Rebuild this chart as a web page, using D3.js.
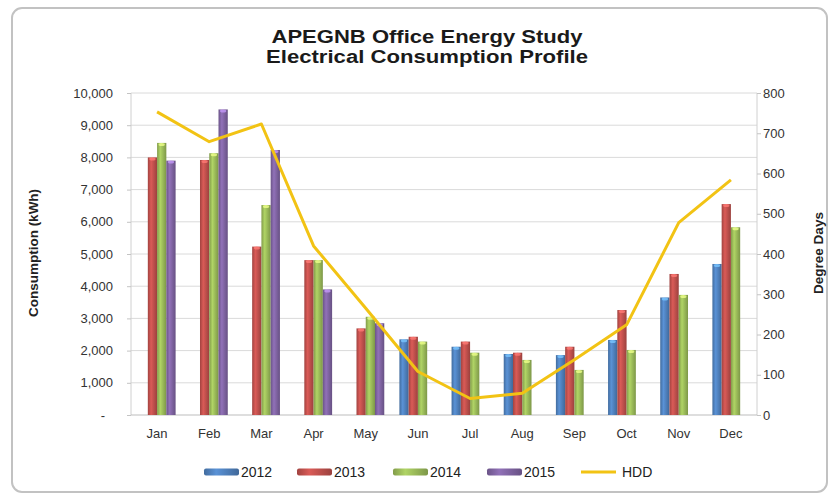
<!DOCTYPE html>
<html>
<head>
<meta charset="utf-8">
<script src="https://cdn.jsdelivr.net/npm/d3@7"></script>
<style>
	body { margin: 0; background: #fff; }
	svg { font-family: 'Liberation Sans', Arial, sans-serif; }
	.axis path { display: none; }
	.axis .tick line { stroke: #c4c4c4; }
	.axis text { fill: #333; font-size: 13px; }
</style>
</head>
<body>
<svg id="chart"></svg>
<script>
// Chart data
const months = ['Jan', 'Feb', 'Mar', 'Apr', 'May', 'Jun', 'Jul', 'Aug', 'Sep', 'Oct', 'Nov', 'Dec'];
const years = ['2012', '2013', '2014', '2015'];
const kwh2012 = [null, null, null, null, null, 2350, 2120, 1895, 1860, 2330, 3650, 4690];
const kwh2013 = [8000, 7920, 5230, 4810, 2690, 2430, 2280, 1935, 2120, 3260, 4380, 6550];
const kwh2014 = [8450, 8130, 6520, 4810, 3050, 2280, 1935, 1710, 1400, 2020, 3730, 5830];
const kwh2015 = [7900, 9490, 8230, 3900, 2850, null, null, null, null, null, null, null];
const hdd = [753, 679, 723, 420, 265, 108, 41, 54, 137, 224, 478, 584];
const kwhTicks = [0, 1000, 2000, 3000, 4000, 5000, 6000, 7000, 8000, 9000, 10000];
const hddTicks = [0, 100, 200, 300, 400, 500, 600, 700, 800];

class ComboChart {
	constructor(_config) {
		this.config = {
			parentElement: _config.parentElement,
			containerWidth: 834,
			containerHeight: 495,
			margin: { top: 93, right: 77, bottom: 80, left: 131 },
		};
		this.initVis();
	}

	initVis() {
		let vis = this;

		vis.width = vis.config.containerWidth - vis.config.margin.left - vis.config.margin.right;
		vis.height = vis.config.containerHeight - vis.config.margin.top - vis.config.margin.bottom;

		// bar series table built from the year arrays
		vis.series = [kwh2012, kwh2013, kwh2014, kwh2015];
		vis.rows = months.map((m, i) => ({
			month: m,
			values: years.map((y, j) => ({ year: y, value: vis.series[j][i] })).filter((d) => d.value !== null),
			hdd: hdd[i],
		}));

		vis.colorScale = d3.scaleOrdinal()
			.domain(years)
			.range(['#4f81bd', '#c0504d', '#9bbb59', '#8064a2']);
		vis.lineColor = '#f2c314';

		vis.xScale = d3.scaleBand()
			.domain(months)
			.range([0, vis.width])
			.paddingInner(0.29)
			.paddingOuter(0.145);
		vis.xSub = d3.scaleBand()
			.domain(years)
			.range([0, vis.xScale.bandwidth()]);
		vis.yScale = d3.scaleLinear().domain([0, 10000]).range([vis.height, 0]);
		vis.yScaleR = d3.scaleLinear().domain([0, 800]).range([vis.height, 0]);

		vis.svg = d3.select(vis.config.parentElement)
			.attr('width', vis.config.containerWidth)
			.attr('height', vis.config.containerHeight);

		// gradients to mimic the bevelled excel columns
		const defs = vis.svg.append('defs');
		years.forEach((y) => {
			const c = vis.colorScale(y);
			const g = defs.append('linearGradient')
				.attr('id', 'grad' + y)
				.attr('x1', 0).attr('x2', 1).attr('y1', 0).attr('y2', 0);
			g.append('stop').attr('offset', '0%').attr('stop-color', d3.rgb(c).darker(0.5));
			g.append('stop').attr('offset', '35%').attr('stop-color', d3.rgb(c).brighter(0.35));
			g.append('stop').attr('offset', '100%').attr('stop-color', d3.rgb(c).darker(0.6));
		});

		// outer frame
		vis.svg.append('rect')
			.attr('x', 12)
			.attr('y', 8)
			.attr('width', 815)
			.attr('height', 484)
			.attr('rx', 10)
			.attr('fill', '#fff')
			.attr('stroke', '#c2c2c2')
			.attr('stroke-width', 2);

		vis.chart = vis.svg.append('g')
			.attr('transform', `translate(${vis.config.margin.left},${vis.config.margin.top})`);

		// gridlines
		vis.chart.append('g')
			.selectAll('line')
			.data(kwhTicks.slice(1))
			.join('line')
			.attr('x1', 0)
			.attr('x2', vis.width)
			.attr('y1', (d) => vis.yScale(d))
			.attr('y2', (d) => vis.yScale(d))
			.attr('stroke', '#dadada');

		// plot area sides and base
		vis.chart.append('line')
			.attr('x1', 0).attr('x2', 0).attr('y1', 0).attr('y2', vis.height)
			.attr('stroke', '#d0d0d0');
		vis.chart.append('line')
			.attr('x1', vis.width).attr('x2', vis.width).attr('y1', 0).attr('y2', vis.height)
			.attr('stroke', '#d0d0d0');
		vis.chart.append('line')
			.attr('x1', 0).attr('x2', vis.width).attr('y1', vis.height).attr('y2', vis.height)
			.attr('stroke', '#bdbdbd');

		vis.xAxis = d3.axisBottom(vis.xScale).tickSize(0).tickPadding(14);
		vis.yAxis = d3.axisLeft(vis.yScale)
			.tickValues(kwhTicks)
			.tickSize(4)
			.tickPadding(14)
			.tickFormat((d) => (d === 0 ? '-' : d3.format(',')(d)));
		vis.yAxisR = d3.axisRight(vis.yScaleR)
			.tickValues(hddTicks)
			.tickSize(4)
			.tickPadding(2)
			.tickFormat(d3.format('d'));

		vis.xAxisG = vis.chart.append('g')
			.attr('class', 'axis x-axis')
			.attr('transform', `translate(0,${vis.height})`);
		vis.yAxisG = vis.chart.append('g').attr('class', 'axis y-axis left');
		vis.yAxisGR = vis.chart.append('g')
			.attr('class', 'axis y-axis right')
			.attr('transform', `translate(${vis.width},0)`);

		// axis titles
		vis.svg.append('text')
			.attr('transform', 'translate(38,253) rotate(-90)')
			.attr('text-anchor', 'middle')
			.style('font-size', '13.5px')
			.style('font-weight', 'bold')
			.attr('fill', '#222')
			.text('Consumption (kWh)');
		vis.svg.append('text')
			.attr('transform', 'translate(823,253) rotate(-90)')
			.attr('text-anchor', 'middle')
			.style('font-size', '13.5px')
			.style('font-weight', 'bold')
			.attr('fill', '#222')
			.text('Degree Days');

		vis.renderTitle();
		vis.renderLegend();
		vis.renderVis();
	}

	renderTitle() {
		let vis = this;
		const lines = ['APEGNB Office Energy Study', 'Electrical Consumption Profile'];
		const lengths = [311, 322];
		vis.svg.append('g')
			.selectAll('text')
			.data(lines)
			.join('text')
			.attr('x', 427)
			.attr('y', (d, i) => 43 + i * 20)
			.attr('text-anchor', 'middle')
			.attr('textLength', (d, i) => lengths[i])
			.attr('lengthAdjust', 'spacingAndGlyphs')
			.style('font-size', '18px')
			.style('font-weight', 'bold')
			.attr('fill', '#1a1a1a')
			.text((d) => d);
	}

	renderLegend() {
		let vis = this;
		const items = years.concat(['HDD']);
		const xs = [204, 297, 393, 487, 581];

		vis.legend = vis.svg.append('g')
			.attr('class', 'legend')
			.attr('transform', 'translate(0,472)');

		const item = vis.legend.selectAll('g')
			.data(items)
			.join('g')
			.attr('transform', (d, i) => `translate(${xs[i]},0)`);

		item.filter((d) => d !== 'HDD')
			.append('rect')
			.attr('x', 0)
			.attr('y', -3.5)
			.attr('width', 35)
			.attr('height', 7)
			.attr('rx', 2)
			.attr('fill', (d) => `url(#grad${d})`);

		item.filter((d) => d === 'HDD')
			.append('line')
			.attr('x1', 0)
			.attr('x2', 35)
			.attr('stroke', vis.lineColor)
			.attr('stroke-width', 3);

		item.append('text')
			.attr('x', (d) => (d === 'HDD' ? 41 : 37))
			.attr('y', 5)
			.style('font-size', '14px')
			.attr('fill', '#222')
			.text((d) => d);
	}

	renderVis() {
		let vis = this;

		const groups = vis.chart.selectAll('.month')
			.data(vis.rows)
			.join('g')
			.attr('class', 'month')
			.attr('transform', (d) => `translate(${vis.xScale(d.month)},0)`);

		groups.selectAll('rect')
			.data((d) => d.values)
			.join('rect')
			.attr('x', (d) => vis.xSub(d.year))
			.attr('width', vis.xSub.bandwidth())
			.attr('y', (d) => vis.yScale(d.value))
			.attr('height', (d) => vis.height - vis.yScale(d.value))
			.attr('fill', (d) => `url(#grad${d.year})`);

		// light cap on each column
		groups.selectAll('ellipse')
			.data((d) => d.values)
			.join('ellipse')
			.attr('cx', (d) => vis.xSub(d.year) + vis.xSub.bandwidth() / 2)
			.attr('cy', (d) => vis.yScale(d.value) + 1.5)
			.attr('rx', vis.xSub.bandwidth() / 2 - 1.5)
			.attr('ry', 1.5)
			.attr('fill', (d) => d3.rgb(vis.colorScale(d.year)).brighter(1.2))
			.attr('opacity', 0.8);

		const line = d3.line()
			.x((d) => vis.xScale(d.month) + vis.xScale.bandwidth() / 2)
			.y((d) => vis.yScaleR(d.hdd));

		vis.chart.append('path')
			.datum(vis.rows)
			.attr('fill', 'none')
			.attr('stroke', vis.lineColor)
			.attr('stroke-width', 3)
			.attr('stroke-linejoin', 'round')
			.attr('d', line);

		vis.xAxisG.call(vis.xAxis);
		vis.yAxisG.call(vis.yAxis);
		vis.yAxisGR.call(vis.yAxisR);

		// dash for zero sits a little left, as in accounting format
		vis.yAxisG.selectAll('.tick text').filter((d) => d === 0).attr('dx', -8);
	}
}

new ComboChart({ parentElement: '#chart' });
</script>
</body>
</html>
